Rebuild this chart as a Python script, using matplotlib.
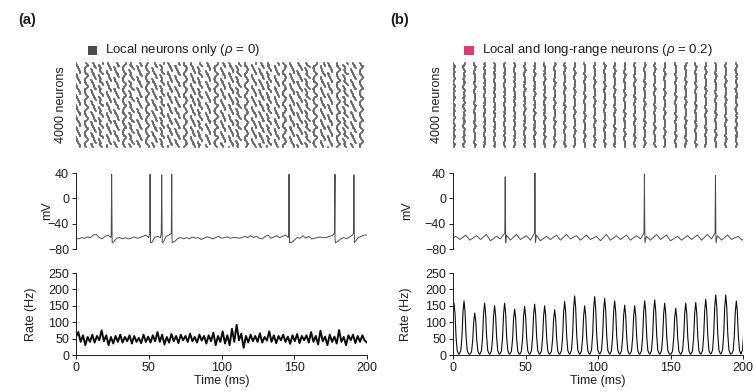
import numpy as np
import matplotlib
matplotlib.use("Agg")
import matplotlib.pyplot as plt
from matplotlib.patches import Rectangle

plt.rcParams['font.family'] = ['Liberation Sans', 'DejaVu Sans']
plt.rcParams['mathtext.fontset'] = 'custom'
plt.rcParams['mathtext.it'] = 'Liberation Sans:italic'
plt.rcParams['mathtext.rm'] = 'Liberation Sans'

# ---- data ----
# (a) membrane potential, baseline every 2 ms, plus spikes
vm_a_t = np.arange(0, 201, 2)
vm_a = [-63, -64, -62, -63, -61, -62, -58, -57, -62, -64, -60, -58, -62, -68, -63, -62,
        -64, -62, -64, -63, -61, -63, -62, -60, -58, -62, -70, -62, -60, -62, -69, -60,
        -58, -64, -68, -63, -62, -64, -62, -64, -61, -63, -62, -65, -63, -61, -62, -64,
        -62, -60, -63, -62, -61, -63, -62, -62, -63, -62, -60, -62, -59, -62, -60, -63,
        -64, -60, -58, -63, -61, -59, -62, -60, -58, -62, -70, -66, -62, -63, -59, -63,
        -60, -64, -63, -62, -61, -62, -62, -60, -59, -64, -68, -64, -62, -64, -61, -58,
        -68, -62, -60, -58, -58]
spikes_a = [24.5, 50.9, 58.9, 65.8, 146.4, 178.0, 191.0]
spike_peak_a = [38, 38, 37, 38, 38, 38, 37]

# (b) membrane potential: small bumps each population cycle, plus spikes
spikes_b = [36.0, 56.5, 132.0, 181.0]
spike_peak_b = [34, 40, 38, 36]

# (b) population rate peaks (ms, Hz)
peaks_b_t = [0.7, 7.6, 15.0, 21.8, 28.7, 35.6, 42.5, 49.4, 56.3, 63.2, 70.1, 77.0, 83.9,
             90.8, 97.7, 104.6, 111.5, 118.4, 125.3, 132.2, 139.1, 146.0, 153.6, 160.5,
             167.4, 174.3, 181.2, 188.1, 195.4, 201.8]
peaks_b_h = [158, 165, 128, 158, 150, 158, 140, 148, 155, 150, 138, 163, 180, 150, 178,
             172, 165, 152, 150, 165, 168, 158, 142, 158, 160, 170, 183, 183, 165, 175]
vm_b_bump = [-60, -58, -59, -57, -60, -58, -57, -59, -58, -60, -58, -57, -59, -58, -60,
             -57, -59, -58, -59, -60, -57, -58, -60, -59, -58, -57, -59, -58, -60, -59]
vm_b_trough = [-65, -66, -65, -67, -64, -66, -65, -66, -67, -65, -66, -64, -66, -65, -67,
               -66, -65, -66, -64, -66, -65, -67, -66, -65, -66, -64, -66, -65, -66, -65]

# (a) population rate, extrema every 1.6 ms
rate_a_t = np.arange(126) * 1.6
rate_a = [55, 70, 40, 60, 30, 55, 40, 62, 38, 58, 45, 75, 42, 60, 30, 55, 35, 58, 40, 62,
          38, 55, 42, 60, 35, 58, 40, 52, 36, 62, 40, 56, 38, 60, 42, 70, 40, 62, 32, 55,
          38, 64, 42, 58, 36, 62, 45, 58, 40, 65, 42, 55, 38, 62, 44, 58, 35, 60, 42, 68,
          30, 58, 40, 72, 35, 60, 30, 80, 40, 92, 45, 65, 22, 58, 38, 62, 42, 58, 40, 66,
          38, 55, 44, 72, 40, 60, 36, 58, 45, 62, 40, 56, 34, 60, 42, 64, 36, 58, 45, 60,
          38, 70, 40, 58, 32, 74, 42, 56, 30, 62, 40, 56, 35, 76, 40, 55, 30, 60, 45, 62,
          36, 58, 40, 60, 44, 38]

# rasters: column times, row offset patterns (ms) and per-column choices
raster_a_times = [1.5, 6.9, 12.0, 17.2, 22.6, 27.9, 33.1, 38.2, 43.6, 48.9, 54.0, 59.4,
                  64.5, 69.8, 75.2, 80.3, 85.4, 90.9, 96.1, 101.2, 106.6, 111.7, 117.1,
                  122.4, 127.5, 132.9, 138.0, 143.2, 148.6, 153.7, 159.1, 164.2, 169.6,
                  174.7, 180.1, 185.2, 190.6, 195.9]
raster_a_patterns = [
    [1.5, 1.3, 1.0, 0.7, 0.4, 0.1, -0.2, -0.5, -0.8, -1.1, -1.3, -1.5],
    [1.2, 0.6, 0.1, -0.3, -0.7, -0.9, -1.0, -0.8, -0.4, 0.1, 0.7, 1.3],
    [1.4, 1.1, 0.6, 0.0, -0.5, -0.9, -0.6, -0.2, -0.6, -1.0, -1.3, -1.5],
]
raster_a_kind = [0, 1, 0, 2, 0, 0, 1, 2, 0, 1, 0, 2, 0, 0, 1, 0, 2, 0, 1, 0, 0, 2, 1, 0,
                 0, 2, 0, 1, 0, 0, 2, 1, 0, 0, 1, 2, 0, 1]
raster_a_phase = [0, 3, 7, 2, 9, 5, 1, 8, 4, 11, 6, 2, 10, 3, 7, 0, 5, 9, 1, 6, 11, 4, 8,
                  2, 7, 10, 3, 5, 0, 9, 6, 1, 4, 11, 8, 2, 7, 5]
raster_b_wobble = [0.0, 0.3, 0.5, 0.4, 0.1, -0.2, -0.5, -0.6, -0.4, -0.1, 0.2, 0.5, 0.6,
                   0.3, 0.0, -0.3, -0.5, -0.2, 0.1, 0.4, 0.2, -0.1]
n_rows = 96

# ---- build traces ----
def with_spikes(t, v, spikes, peaks):
    tt = list(t)
    vv = list(v)
    for ts, pk in zip(spikes, peaks):
        tt += [ts - 0.3, ts, ts + 0.35]
        vv += [-55, pk, -70]
    order = np.argsort(tt)
    return np.array(tt)[order], np.array(vv)[order]

vm_a_tt, vm_a_vv = with_spikes(vm_a_t, vm_a, spikes_a, spike_peak_a)

vb_t, vb_v = [0.0], [-63]
for p, up, dn in zip(peaks_b_t, vm_b_bump, vm_b_trough):
    vb_t += [p + 1.2, p + 4.0]
    vb_v += [up, dn]
vm_b_tt, vm_b_vv = with_spikes(vb_t, vb_v, spikes_b, spike_peak_b)

shape_dt = [-3.2, -2.2, -1.4, -0.7, 0, 0.7, 1.4, 2.2, 3.2]
shape_fr = [0.02, 0.08, 0.35, 0.8, 1, 0.8, 0.35, 0.08, 0.02]
rate_b_t, rate_b = [], []
for p, h in zip(peaks_b_t, peaks_b_h):
    rate_b_t += [p + d for d in shape_dt]
    rate_b += [h * f for f in shape_fr]

rows = np.arange(n_rows)
ras_a_x, ras_a_y = [], []
for tc, k, ph in zip(raster_a_times, raster_a_kind, raster_a_phase):
    pat = raster_a_patterns[k]
    for r in rows:
        ras_a_x.append(tc + pat[(r + ph) % len(pat)])
        ras_a_y.append(r)
ras_b_x, ras_b_y = [], []
for i, tc in enumerate(peaks_b_t[:-1]):
    for r in rows:
        ras_b_x.append(tc + raster_b_wobble[(r + 5 * i) % len(raster_b_wobble)])
        ras_b_y.append(r)

# ---- figure ----
fig = plt.figure(figsize=(7.55, 3.92), dpi=100)
W, H = 755.0, 392.0
ink = '0.12'

def axes_px(x0, x1, ytop, ybot):
    return fig.add_axes([x0 / W, 1 - ybot / H, (x1 - x0) / W, (ybot - ytop) / H])

def style(ax, bottom=False):
    for s in ['top', 'right']:
        ax.spines[s].set_visible(False)
    ax.spines['bottom'].set_visible(bottom)
    ax.spines['left'].set_color(ink)
    ax.spines['left'].set_linewidth(0.7)
    ax.spines['bottom'].set_color(ink)
    ax.spines['bottom'].set_linewidth(0.7)
    ax.tick_params(labelsize=9, length=3, width=0.7, colors=ink, pad=2)
    if not bottom:
        ax.tick_params(axis='x', bottom=False, labelbottom=False)

panels = [
    dict(x0=76, x1=367, ras=(ras_a_x, ras_a_y), vm=(vm_a_tt, vm_a_vv),
         rate=(rate_a_t, rate_a), rate_lw=1.4, lab_vm=-0.078, lab=-0.134, lab_r=-0.031),
    dict(x0=453, x1=743, ras=(ras_b_x, ras_b_y), vm=(vm_b_tt, vm_b_vv),
         rate=(rate_b_t, rate_b), rate_lw=0.8, lab_vm=-0.138, lab=-0.141, lab_r=-0.034),
]

for P in panels:
    ax = axes_px(P['x0'], P['x1'], 62, 148)
    ax.scatter(P['ras'][0], P['ras'][1], s=1.3, marker='s', color='0.4',
               linewidths=0, alpha=0.8)
    ax.set_xlim(0, 200)
    ax.set_ylim(-1, n_rows)
    for s in ax.spines.values():
        s.set_visible(False)
    ax.set_xticks([])
    ax.set_yticks([])
    ax.set_ylabel('4000 neurons', fontsize=9, color=ink)
    ax.yaxis.set_label_coords(P['lab_r'], 0.5)

    ax = axes_px(P['x0'], P['x1'], 173, 249)
    ax.plot(P['vm'][0], P['vm'][1], color='0.3', lw=0.7)
    ax.set_xlim(0, 200)
    ax.set_ylim(-80, 40)
    ax.set_yticks([40, 0, -40, -80])
    ax.set_yticklabels(['40', '0', '\u221240', '\u221280'])
    style(ax)
    ax.set_ylabel('mV', fontsize=9, color=ink)
    ax.yaxis.set_label_coords(P['lab_vm'], 0.5)

    ax = axes_px(P['x0'], P['x1'], 273, 355)
    ax.plot(P['rate'][0], P['rate'][1], color='0.05', lw=P['rate_lw'])
    ax.set_xlim(0, 200)
    ax.set_ylim(0, 250)
    ax.set_yticks([0, 50, 100, 150, 200, 250])
    ax.set_xticks([0, 50, 100, 150, 200])
    style(ax, bottom=True)
    ax.set_ylabel('Rate (Hz)', fontsize=9, color=ink)
    ax.yaxis.set_label_coords(P['lab'], 0.5)
    ax.set_xlabel('Time (ms)', fontsize=9, color=ink, labelpad=1)

# panel letters and legends
fig.text(18 / W, 1 - 20 / H, '(a)', fontsize=10.5, fontweight='bold', va='center', color=ink)
fig.text(390 / W, 1 - 20 / H, '(b)', fontsize=10.5, fontweight='bold', va='center', color=ink)

fig.add_artist(Rectangle((88 / W, 1 - 55 / H), 9 / W, 9 / H, transform=fig.transFigure,
                         facecolor='#4b4b4b', edgecolor='none'))
fig.text(105 / W, 1 - 50 / H, r'Local neurons only ($\it{\rho}$ = 0)', fontsize=9.5,
         va='center', color=ink)
fig.add_artist(Rectangle((464 / W, 1 - 55 / H), 10 / W, 9 / H, transform=fig.transFigure,
                         facecolor='#e23a6e', edgecolor='none'))
fig.text(482 / W, 1 - 50 / H, r'Local and long-range neurons ($\it{\rho}$ = 0.2)',
         fontsize=9.5, va='center', color=ink)

fig.savefig('out.png', dpi=100)
